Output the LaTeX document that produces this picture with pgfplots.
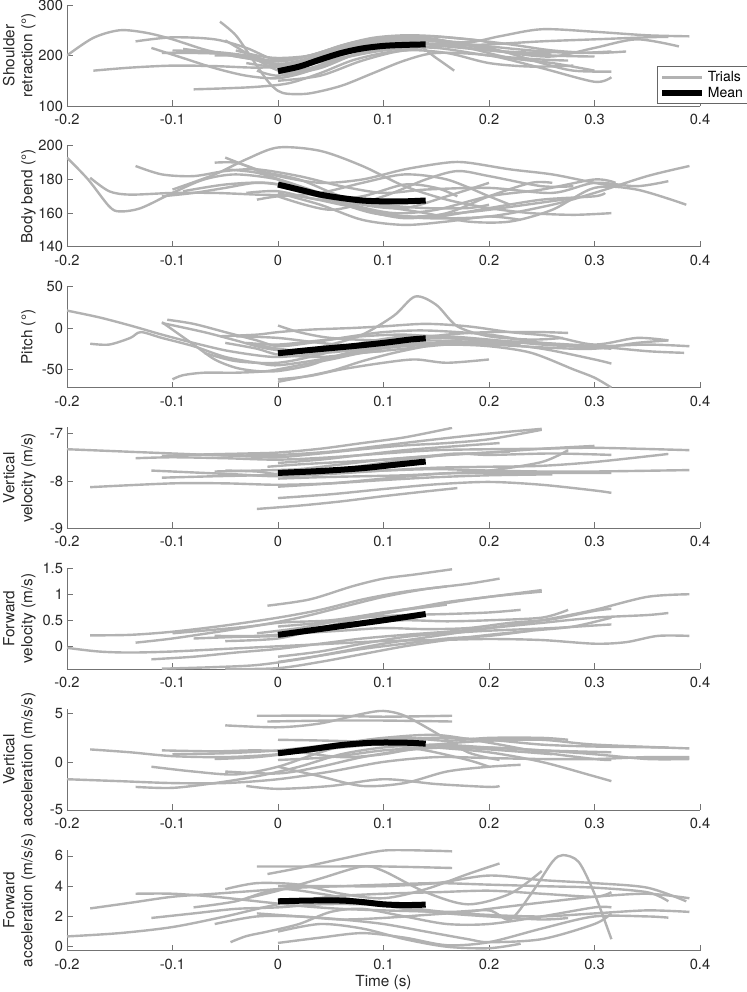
\documentclass[border=0pt]{standalone}
\usepackage{pgfplots}
\pgfplotsset{compat=1.18}
\usepackage{fontspec}
\setmainfont{TeX Gyre Heros}
\definecolor{tgray}{rgb}{0.7,0.7,0.7}
\pgfplotsset{
  panel/.style={
    scale only axis, width=474.75pt, height=75.75pt,
    xmin=-0.2, xmax=0.4,
    axis lines*=left, tick align=inside, major tick length=4.5pt,
    xtick={-0.2,-0.1,0,0.1,0.2,0.3,0.4},
    xticklabels={-0.2,-0.1,0,0.1,0.2,0.3,0.4},
    tick label style={font=\fontsize{11}{13}\selectfont, color=black!85},
    xticklabel style={yshift=-2.5pt},
    yticklabel style={xshift=0.5pt},
    axis line style={black!55, line width=0.5pt},
    every tick/.style={black!55, line width=0.5pt},
    ylabel style={at={(axis description cs:-0.049,0.5)}, anchor=south, align=center, inner sep=0pt,
      font=\fontsize{11.5}{13.5}\selectfont, color=black!85},
    anchor=north west,
  },
  trial/.style={color=tgray, line width=1.8pt, smooth, forget plot, mark=none},
  mean/.style={color=black, line width=4.5pt, smooth, forget plot, mark=none},
}
\begin{document}
\begin{tikzpicture}
\path[use as bounding box] (-50.25pt,-740.25pt) rectangle (509.25pt,3.75pt);
% ---------------- Panel 1 ----------------
\begin{axis}[panel, at={(0pt,0pt)}, ymin=100, ymax=300, ytick={100,200,300}, yticklabels={100,200,300},
  ylabel={Shoulder\\retraction (°)},
  legend style={at={(axis description cs:0.932,0.392)}, anchor=north west, draw=black!60, line width=0.5pt,
    font=\fontsize{10.5}{12}\selectfont, inner sep=1.5pt, row sep=-1.5pt, cells={anchor=west}},
  legend image code/.code={\draw[#1] (0pt,0pt) -- (30pt,0pt);}]
\addlegendimage{color=tgray, line width=1.8pt}
\addlegendimage{black, line width=4.5pt}
\legend{Trials,Mean}
\addplot[trial] coordinates {(-0.2,200)(-0.175,235)(-0.15,250)(-0.125,245)(-0.1,232)(-0.07,212)(-0.04,198)(-0.01,190)(0.02,195)(0.06,215)(0.1,232)(0.14,238)(0.18,232)(0.22,222)(0.26,210)(0.3,205)(0.33,208)};
\addplot[trial] coordinates {(-0.175,170)(-0.14,176)(-0.1,180)(-0.06,179)(-0.02,176)(0.02,180)(0.06,195)(0.1,210)(0.15,218)(0.2,222)(0.25,228)(0.3,232)(0.35,236)(0.37,237)};
\addplot[trial] coordinates {(-0.08,133)(-0.05,135)(-0.02,138)(0.01,145)(0.04,165)(0.07,190)(0.1,205)(0.13,212)};
\addplot[trial] coordinates {(-0.055,267)(-0.04,240)(-0.025,195)(-0.01,150)(0.0,130)(0.01,124)(0.03,125)(0.06,140)(0.09,165)(0.12,190)(0.15,205)(0.2,200)(0.25,175)(0.3,148)(0.316,157)};
\addplot[trial] coordinates {(-0.135,228)(-0.1,236)(-0.06,232)(-0.03,215)(0,190)(0.03,200)(0.07,225)(0.1,235)(0.13,236)(0.17,225)};
\addplot[trial] coordinates {(-0.12,215)(-0.09,195)(-0.06,175)(-0.03,160)(0,155)(0.03,170)(0.06,200)(0.1,222)(0.14,230)(0.18,215)(0.22,195)(0.26,185)(0.3,170)};
\addplot[trial] coordinates {(-0.1,210)(-0.06,207)(-0.03,200)(0,188)(0.03,200)(0.07,225)(0.1,235)(0.14,232)(0.18,226)(0.21,238)(0.25,252)(0.3,247)(0.35,240)(0.39,238)};
\addplot[trial] coordinates {(-0.03,185)(0,178)(0.03,192)(0.06,215)(0.1,232)(0.14,235)(0.18,220)(0.22,205)(0.26,198)(0.3,215)(0.34,232)(0.38,218)};
\addplot[trial] coordinates {(-0.05,230)(-0.03,205)(-0.01,180)(0.01,165)(0.04,175)(0.07,200)(0.1,218)(0.13,222)(0.15,195)(0.167,170)};
\addplot[trial] coordinates {(-0.11,205)(-0.08,205)(-0.05,203)(-0.02,196)(0,183)(0.03,195)(0.06,218)(0.1,230)(0.14,230)(0.2,218)(0.24,210)(0.28,205)(0.316,208)};
\addplot[trial] coordinates {(-0.02,170)(0,160)(0.03,172)(0.07,200)(0.1,215)(0.15,215)(0.2,200)(0.25,192)(0.275,190)};
\addplot[trial] coordinates {(-0.06,200)(-0.03,198)(0,180)(0.03,190)(0.07,215)(0.1,225)(0.15,223)(0.2,210)(0.25,205)(0.26,207)};
\addplot[trial] coordinates {(0,165)(0.03,175)(0.06,195)(0.1,213)(0.14,222)(0.18,222)(0.21,210)(0.25,185)(0.28,170)(0.316,168)};
\addplot[trial] coordinates {(-0.09,213)(-0.06,205)(-0.03,195)(0,182)(0.03,190)(0.06,210)(0.09,225)(0.12,228)(0.15,220)(0.2,210)(0.26,200)(0.3,198)};
\addplot[trial] coordinates {(0,150)(0.04,160)(0.08,190)(0.12,210)(0.16,205)(0.2,185)(0.24,178)(0.28,180)};
\addplot[trial] coordinates {(-0.04,210)(-0.02,200)(0,195)(0.03,200)(0.06,220)(0.09,235)(0.12,240)(0.15,238)(0.19,230)(0.2,225)};
\addplot[mean] coordinates {(0,169)(0.02,178)(0.04,192)(0.06,205)(0.08,214)(0.1,219)(0.12,221)(0.14,222)};
\end{axis}
% ---------------- Panel 2 ----------------
\begin{axis}[panel, at={(0pt,-105.6pt)}, ymin=140, ymax=200, ytick={140,160,180,200}, yticklabels={140,160,180,200},
  ylabel={Body bend (°)}]
\addplot[trial] coordinates {(-0.2,193)(-0.18,180)(-0.16,164)(-0.15,161)(-0.13,163)(-0.1,172)(-0.07,180)(-0.04,183)(0,180)(0.04,172)(0.08,165)(0.12,163)(0.16,170)(0.2,178)};
\addplot[trial] coordinates {(-0.178,181)(-0.16,173)(-0.14,171)(-0.1,172)(-0.06,172)(-0.02,171)(0.02,170)(0.06,165)(0.1,160)(0.14,157)(0.2,158)(0.26,165)(0.3,172)(0.35,182)(0.39,188)};
\addplot[trial] coordinates {(-0.135,188)(-0.11,183)(-0.08,182)(-0.05,185)(-0.02,186)(0.02,182)(0.06,176)(0.1,172)(0.14,174)(0.2,175)(0.26,172)(0.3,178)(0.34,176)(0.37,179)};
\addplot[trial] coordinates {(-0.1,174)(-0.06,183)(-0.03,192)(0,199)(0.04,197)(0.08,188)(0.12,176)(0.16,168)(0.2,163)(0.24,160)(0.28,159)(0.316,160)};
\addplot[trial] coordinates {(-0.11,170)(-0.08,172)(-0.05,175)(-0.02,178)(0.01,176)(0.05,170)(0.1,164)(0.14,160)(0.18,155)(0.22,155)(0.26,162)(0.3,175)(0.34,174)(0.387,165)};
\addplot[trial] coordinates {(-0.06,190)(-0.04,190)(-0.02,186)(0,182)(0.04,178)(0.08,180)(0.12,186)(0.16,190)(0.18,190)(0.22,186)(0.26,183)(0.3,178)(0.32,176)};
\addplot[trial] coordinates {(-0.05,193)(-0.03,188)(0,180)(0.04,170)(0.08,162)(0.12,157)(0.16,160)(0.2,170)(0.24,178)(0.26,178)};
\addplot[trial] coordinates {(-0.02,168)(0,170)(0.04,172)(0.08,178)(0.12,183)(0.16,180)(0.2,170)(0.22,165)};
\addplot[trial] coordinates {(0,172)(0.04,165)(0.08,156)(0.12,153)(0.16,155)(0.2,158)(0.23,156)};
\addplot[trial] coordinates {(-0.09,173)(-0.05,177)(-0.01,178)(0.03,173)(0.07,165)(0.11,160)(0.15,162)(0.2,170)(0.25,174)(0.3,180)(0.32,178)};
\addplot[trial] coordinates {(-0.05,186)(-0.02,184)(0.01,178)(0.05,168)(0.09,160)(0.13,158)(0.17,160)(0.2,162)(0.27,168)(0.275,168)};
\addplot[trial] coordinates {(0,170)(0.05,162)(0.1,170)(0.14,180)(0.17,185)(0.2,182)(0.25,176)(0.28,176)};
\addplot[trial] coordinates {(-0.03,172)(0,173)(0.04,168)(0.08,170)(0.12,177)(0.15,175)(0.17,170)};
\addplot[trial] coordinates {(-0.02,185)(0.02,180)(0.06,170)(0.1,165)(0.14,163)(0.18,163)(0.2,165)};
\addplot[trial] coordinates {(0.0,176)(0.05,168)(0.1,159)(0.15,158)(0.2,163)(0.25,168)(0.3,170)(0.31,172)};
\addplot[mean] coordinates {(0,177)(0.02,174)(0.04,171)(0.06,169)(0.08,167.5)(0.1,167)(0.12,167)(0.14,167.5)};
\end{axis}
% ---------------- Panel 3 ----------------
\begin{axis}[panel, at={(0pt,-211.2pt)}, ymin=-72, ymax=50, ytick={-50,0,50}, yticklabels={-50,0,50},
  ylabel={Pitch (°)}]
\addplot[trial] coordinates {(-0.2,21)(-0.17,13)(-0.14,3)(-0.11,-8)(-0.08,-18)(-0.05,-27)(-0.02,-33)(0,-35)(0.03,-32)(0.06,-25)(0.1,-18)(0.14,-15)(0.2,-18)(0.25,-25)(0.3,-38)(0.316,-43)};
\addplot[trial] coordinates {(-0.178,-19)(-0.16,-20)(-0.14,-12)(-0.13,-5)(-0.11,-12)(-0.08,-22)(-0.05,-35)(-0.02,-42)(0,-45)(0.04,-38)(0.08,-28)(0.12,-22)(0.16,-20)(0.2,-22)(0.24,-30)(0.28,-50)(0.3,-60)(0.316,-72)};
\addplot[trial] coordinates {(-0.11,7)(-0.1,-2)(-0.08,-20)(-0.06,-38)(-0.04,-48)(-0.02,-52)(0,-52)(0.03,-45)(0.06,-32)(0.1,-22)(0.14,-18)(0.17,-20)};
\addplot[trial] coordinates {(-0.105,10)(-0.08,5)(-0.05,-5)(-0.02,-15)(0,-22)(0.03,-18)(0.07,-10)(0.1,-5)(0.14,-3)(0.2,-8)(0.25,-18)(0.3,-22)(0.35,-20)(0.39,-22)};
\addplot[trial] coordinates {(-0.1,-62)(-0.09,-57)(-0.07,-54)(-0.04,-54)(-0.01,-52)(0.02,-45)(0.05,-38)(0.08,-30)(0.1,-28)};
\addplot[trial] coordinates {(-0.11,6)(-0.07,-5)(-0.04,-15)(-0.01,-25)(0.02,-28)(0.05,-20)(0.08,-8)(0.11,15)(0.13,38)(0.15,28)(0.17,2)(0.2,-10)(0.24,-14)(0.27,-12)};
\addplot[trial] coordinates {(-0.055,-10)(-0.02,-8)(0,-5)(0.03,-2)(0.07,0)(0.1,2)(0.14,5)(0.18,2)(0.22,-5)(0.26,-10)(0.3,-20)(0.34,-12)(0.37,-15)};
\addplot[trial] coordinates {(-0.02,-20)(0,-25)(0.04,-30)(0.08,-25)(0.12,-15)(0.16,-8)(0.2,-5)(0.25,-5)(0.275,-6)};
\addplot[trial] coordinates {(0,3)(0.02,-5)(0.05,-12)(0.1,-15)(0.15,-12)(0.2,-15)(0.25,-18)(0.3,-22)(0.35,-28)(0.385,-30)};
\addplot[trial] coordinates {(-0.05,-18)(-0.02,-25)(0,-32)(0.04,-35)(0.08,-30)(0.12,-25)(0.16,-20)(0.2,-18)(0.24,-16)};
\addplot[trial] coordinates {(0,-62)(0.03,-58)(0.06,-50)(0.1,-42)(0.13,-38)(0.16,-42)(0.2,-38)};
\addplot[trial] coordinates {(-0.04,-10)(0,-12)(0.04,-18)(0.08,-22)(0.12,-20)(0.16,-18)(0.2,-20)(0.26,-24)(0.3,-25)(0.34,-18)(0.37,-15)};
\addplot[trial] coordinates {(0,-65)(0.02,-60)(0.05,-52)(0.08,-40)(0.11,-30)(0.14,-22)};
\addplot[trial] coordinates {(-0.03,-18)(0,-20)(0.04,-15)(0.08,-10)(0.12,-8)(0.16,-12)(0.2,-16)(0.23,-20)};
\addplot[trial] coordinates {(-0.07,-30)(-0.04,-40)(0,-42)(0.04,-32)(0.08,-18)(0.12,-10)(0.16,-10)(0.2,-14)(0.25,-20)(0.316,-25)};
\addplot[mean] coordinates {(0,-30.5)(0.035,-26)(0.07,-22)(0.1,-18)(0.125,-14)(0.14,-12.5)};
\end{axis}
% ---------------- Panel 4 ----------------
\begin{axis}[panel, at={(0pt,-316.8pt)}, ymin=-9, ymax=-6.87, ytick={-9,-8,-7}, yticklabels={-9,-8,-7},
  ylabel={Vertical\\velocity (m/s)}]
\addplot[trial] coordinates {(-0.2,-7.33)(-0.1,-7.42)(-0.05,-7.46)(0,-7.45)(0.05,-7.38)(0.1,-7.25)(0.15,-7.12)(0.2,-7.0)(0.25,-6.9)};
\addplot[trial] coordinates {(-0.178,-8.13)(-0.1,-8.05)(-0.05,-8.05)(0,-8.08)(0.05,-8.05)(0.1,-7.98)(0.15,-7.92)(0.2,-7.88)(0.26,-7.86)};
\addplot[trial] coordinates {(-0.135,-7.52)(-0.1,-7.5)(-0.05,-7.52)(0,-7.55)(0.05,-7.5)(0.1,-7.42)(0.15,-7.35)(0.2,-7.33)(0.25,-7.32)(0.3,-7.3)(0.39,-7.35)};
\addplot[trial] coordinates {(-0.12,-7.78)(-0.08,-7.82)(-0.04,-7.86)(0,-7.9)(0.05,-7.85)(0.1,-7.78)(0.15,-7.72)(0.2,-7.7)(0.25,-7.68)(0.3,-7.6)(0.37,-7.43)};
\addplot[trial] coordinates {(-0.11,-7.93)(-0.06,-7.9)(-0.02,-7.88)(0.02,-7.85)(0.06,-7.82)(0.1,-7.78)(0.15,-7.75)(0.2,-7.78)(0.25,-7.8)(0.3,-7.8)(0.39,-7.77)};
\addplot[trial] coordinates {(-0.02,-8.59)(0.02,-8.52)(0.06,-8.43)(0.1,-8.32)(0.14,-8.22)(0.17,-8.15)};
\addplot[trial] coordinates {(0,-8.36)(0.05,-8.28)(0.1,-8.17)(0.15,-8.07)(0.2,-8.02)(0.25,-8.08)(0.3,-8.2)(0.316,-8.25)};
\addplot[trial] coordinates {(-0.11,-7.47)(-0.07,-7.44)(-0.03,-7.42)(0,-7.4)(0.04,-7.32)(0.08,-7.2)(0.12,-7.08)(0.165,-6.88)};
\addplot[trial] coordinates {(-0.07,-7.44)(-0.03,-7.48)(0,-7.5)(0.04,-7.42)(0.08,-7.33)(0.12,-7.25)(0.16,-7.2)(0.2,-7.12)(0.25,-6.92)};
\addplot[trial] coordinates {(-0.05,-7.78)(-0.02,-7.8)(0,-7.85)(0.04,-7.8)(0.08,-7.68)(0.12,-7.55)(0.16,-7.45)(0.2,-7.4)(0.25,-7.32)(0.3,-7.26)};
\addplot[trial] coordinates {(-0.01,-7.7)(0.02,-7.65)(0.06,-7.6)(0.1,-7.55)(0.14,-7.48)(0.17,-7.42)(0.2,-7.45)(0.26,-7.42)(0.316,-7.45)};
\addplot[trial] coordinates {(0,-7.95)(0.04,-7.92)(0.08,-7.9)(0.12,-7.88)(0.16,-7.84)(0.2,-7.83)(0.25,-7.83)(0.316,-7.83)};
\addplot[trial] coordinates {(0,-8.12)(0.05,-8.05)(0.1,-7.95)(0.15,-7.85)(0.2,-7.78)(0.25,-7.6)(0.275,-7.35)};
\addplot[trial] coordinates {(-0.06,-7.8)(-0.02,-7.78)(0.02,-7.75)(0.06,-7.65)(0.1,-7.55)(0.14,-7.48)(0.2,-7.4)(0.22,-7.38)};
\addplot[trial] coordinates {(0,-7.62)(0.04,-7.55)(0.08,-7.45)(0.12,-7.35)(0.16,-7.28)(0.21,-7.2)};
\addplot[mean] coordinates {(0,-7.83)(0.04,-7.79)(0.08,-7.73)(0.11,-7.66)(0.14,-7.59)};
\end{axis}
% ---------------- Panel 5 ----------------
\begin{axis}[panel, at={(0pt,-422.4pt)}, ymin=-0.44, ymax=1.5, ytick={0,0.5,1,1.5}, yticklabels={0,0.5,1,1.5},
  ylabel={Forward\\velocity (m/s)}]
\addplot[trial] coordinates {(-0.2,-0.03)(-0.17,-0.1)(-0.14,-0.12)(-0.1,-0.1)(-0.05,-0.05)(0,0)(0.05,0.05)(0.1,0.1)(0.15,0.12)(0.2,0.14)(0.25,0.12)(0.3,0.05)(0.33,0.08)(0.36,0.2)(0.39,0.2)};
\addplot[trial] coordinates {(-0.178,0.21)(-0.14,0.22)(-0.1,0.28)(-0.05,0.4)(0,0.55)(0.04,0.7)(0.08,0.9)(0.12,1.05)(0.16,1.15)};
\addplot[trial] coordinates {(-0.01,0.78)(0.03,0.9)(0.07,1.15)(0.1,1.3)(0.13,1.38)(0.165,1.48)};
\addplot[trial] coordinates {(-0.1,0.25)(-0.06,0.32)(-0.02,0.4)(0.02,0.55)(0.06,0.75)(0.1,0.95)(0.14,1.1)(0.18,1.2)(0.21,1.3)};
\addplot[trial] coordinates {(-0.135,0.07)(-0.1,0.15)(-0.05,0.3)(0,0.45)(0.05,0.5)(0.1,0.65)(0.15,0.8)(0.2,0.95)(0.25,1.05)};
\addplot[trial] coordinates {(-0.12,-0.25)(-0.08,-0.2)(-0.04,-0.12)(0,-0.05)(0.04,0.05)(0.08,0.15)(0.12,0.22)(0.16,0.28)(0.2,0.35)(0.25,0.45)(0.3,0.55)(0.35,0.6)(0.37,0.64)};
\addplot[trial] coordinates {(-0.11,-0.43)(-0.06,-0.4)(-0.02,-0.36)(0.02,-0.25)(0.06,-0.1)(0.1,0.05)(0.15,0.2)(0.2,0.35)(0.25,0.5)(0.3,0.7)(0.35,0.95)(0.39,1.0)};
\addplot[trial] coordinates {(-0.05,-0.44)(0,-0.42)(0.04,-0.3)(0.08,-0.15)(0.12,0.0)(0.16,0.12)(0.2,0.22)(0.24,0.3)(0.28,0.38)(0.316,0.55)};
\addplot[trial] coordinates {(-0.08,0.15)(-0.04,0.18)(0,0.2)(0.04,0.3)(0.08,0.45)(0.12,0.5)(0.16,0.48)(0.2,0.5)(0.25,0.55)(0.275,0.7)};
\addplot[trial] coordinates {(-0.06,0.2)(-0.02,0.2)(0.02,0.25)(0.06,0.3)(0.1,0.35)(0.14,0.33)(0.18,0.35)(0.22,0.45)(0.26,0.52)(0.3,0.68)(0.316,0.72)};
\addplot[trial] coordinates {(-0.05,0.1)(0,0.15)(0.04,0.35)(0.08,0.55)(0.12,0.7)(0.16,0.85)(0.2,0.95)(0.25,1.08)};
\addplot[trial] coordinates {(0,-0.2)(0.04,-0.1)(0.08,0.05)(0.12,0.18)(0.16,0.25)(0.2,0.3)(0.26,0.35)(0.3,0.4)(0.316,0.42)};
\addplot[trial] coordinates {(-0.02,0.25)(0.02,0.35)(0.06,0.5)(0.1,0.65)(0.14,0.75)(0.16,0.8)};
\addplot[trial] coordinates {(0,0.38)(0.04,0.45)(0.08,0.55)(0.12,0.6)(0.16,0.62)(0.2,0.65)(0.23,0.7)};
\addplot[trial] coordinates {(0.0,-0.3)(0.04,-0.18)(0.08,-0.05)(0.12,0.05)(0.16,0.15)(0.2,0.2)(0.24,0.3)};
\addplot[mean] coordinates {(0,0.22)(0.05,0.36)(0.1,0.5)(0.14,0.62)};
\end{axis}
% ---------------- Panel 6 ----------------
\begin{axis}[panel, at={(0pt,-528pt)}, ymin=-5, ymax=5.5, ytick={-5,0,5}, yticklabels={-5,0,5},
  ylabel={Vertical\\acceleration (m/s/s)}]
\addplot[trial] coordinates {(-0.2,-1.8)(-0.15,-2)(-0.1,-2.2)(-0.05,-2.2)(0,-1.8)(0.05,-1)(0.1,0)(0.15,0.5)(0.2,0.4)(0.25,0.3)(0.3,0.3)(0.35,0.5)(0.39,0.5)};
\addplot[trial] coordinates {(-0.178,1.3)(-0.14,1.0)(-0.1,0.6)(-0.05,0.5)(0,0.8)(0.05,1.5)(0.1,2.2)(0.15,2.5)(0.2,2.3)(0.25,1.8)(0.3,1.6)(0.37,1.5)};
\addplot[trial] coordinates {(-0.135,-2.6)(-0.1,-2.7)(-0.06,-2.2)(-0.02,-1.5)(0.02,-0.5)(0.06,0.8)(0.1,1.5)(0.15,1.8)(0.2,1.5)(0.25,1.2)(0.316,1.0)};
\addplot[trial] coordinates {(-0.02,4.8)(0.05,4.8)(0.1,4.7)(0.165,4.8)};
\addplot[trial] coordinates {(-0.01,4.2)(0.05,4.3)(0.1,4.3)(0.165,4.2)};
\addplot[trial] coordinates {(-0.05,3.8)(0,3.6)(0.04,4)(0.08,5)(0.1,5.3)(0.12,4.8)(0.15,3)(0.18,1)(0.21,0.2)};
\addplot[trial] coordinates {(-0.11,1.2)(-0.06,1.1)(-0.02,1.2)(0.02,1.0)(0.06,0.5)(0.1,0.8)(0.15,1.8)(0.2,2.2)(0.25,2.3)(0.3,1.8)(0.39,1.4)};
\addplot[trial] coordinates {(-0.12,-0.5)(-0.08,-1)(-0.04,-1.3)(0,-0.5)(0.04,1)(0.08,2.2)(0.12,2.5)(0.16,2.2)(0.2,2.5)(0.25,2.5)(0.275,2.3)};
\addplot[trial] coordinates {(-0.06,0.3)(-0.02,0.5)(0.02,1.0)(0.06,1.5)(0.1,1.8)(0.14,1.2)(0.18,0.2)(0.2,-0.5)};
\addplot[trial] coordinates {(0,-0.5)(0.04,-1.5)(0.08,-2.5)(0.12,-2.2)(0.16,-1)(0.2,-0.5)(0.23,-0.3)};
\addplot[trial] coordinates {(-0.1,0.8)(-0.05,0.9)(0,1.2)(0.05,1.8)(0.1,2.5)(0.15,2.8)(0.2,2.0)(0.25,1.0)(0.3,0.3)(0.316,0.2)};
\addplot[trial] coordinates {(-0.05,-1.0)(0,-1.2)(0.04,-0.5)(0.08,0.5)(0.12,1.2)(0.16,1.5)(0.2,1.3)(0.26,0.8)};
\addplot[trial] coordinates {(0,2.3)(0.05,2.2)(0.1,2.0)(0.15,1.5)(0.2,1.0)(0.25,0)(0.3,-1.5)(0.316,-2)};
\addplot[trial] coordinates {(-0.03,-2.5)(0,-2.8)(0.05,-2.5)(0.1,-1.8)(0.15,-2.3)(0.2,-2.6)(0.21,-2.5)};
\addplot[trial] coordinates {(0.0,0.2)(0.05,0.5)(0.1,1.2)(0.15,1.5)(0.2,1.5)(0.25,1.2)(0.3,0.8)(0.35,0.3)(0.39,0.3)};
\addplot[mean] coordinates {(0,0.9)(0.03,1.3)(0.06,1.75)(0.09,2.0)(0.12,2.0)(0.14,1.9)};
\end{axis}
% ---------------- Panel 7 ----------------
\begin{axis}[panel, at={(0pt,-633.6pt)}, ymin=-0.27, ymax=6.4, ytick={0,2,4,6}, yticklabels={0,2,4,6},
  ylabel={Forward\\acceleration (m/s/s)},
  xlabel={Time (s)}, xlabel style={at={(axis description cs:0.5,0)}, anchor=center, yshift=-24pt,
    font=\fontsize{11.5}{14}\selectfont, color=black!85}]
\addplot[trial] coordinates {(-0.2,0.68)(-0.15,0.9)(-0.1,1.3)(-0.05,2.0)(0,2.8)(0.05,3.3)(0.1,3.5)(0.15,3.6)(0.2,3.7)(0.25,3.5)(0.3,3.3)(0.316,3.6)};
\addplot[trial] coordinates {(-0.178,2.53)(-0.14,2.9)(-0.1,3.3)(-0.06,3.5)(-0.02,3.7)(0.02,3.9)(0.06,4.0)(0.1,4.1)(0.15,4.2)(0.2,4.1)(0.25,4.0)(0.3,3.9)(0.35,3.6)(0.37,3.0)};
\addplot[trial] coordinates {(-0.135,3.5)(-0.1,3.5)(-0.06,3.3)(-0.02,3.0)(0.02,2.7)(0.06,2.5)(0.1,2.4)(0.15,2.3)(0.2,2.1)(0.25,2.0)(0.3,2.2)(0.35,2.4)(0.39,2.3)};
\addplot[trial] coordinates {(-0.12,1.9)(-0.08,2.2)(-0.04,2.5)(0,2.6)(0.04,2.8)(0.08,2.8)(0.12,2.6)(0.16,2.3)(0.2,2.4)(0.22,1.8)(0.24,3.5)(0.26,5.6)(0.27,6.05)(0.285,5.6)(0.3,3.5)(0.316,0.5)};
\addplot[trial] coordinates {(-0.045,0.3)(-0.03,0.7)(-0.01,1.0)(0.02,1.5)(0.05,2.3)(0.08,2.5)(0.12,2.0)(0.16,1.5)(0.2,1.5)(0.25,2.0)(0.3,2.6)(0.316,2.6)};
\addplot[trial] coordinates {(0,0.25)(0.04,0.6)(0.08,0.9)(0.12,0.6)(0.16,0.1)(0.2,0.3)(0.25,1.2)(0.3,2.0)(0.35,2.0)(0.37,1.92)};
\addplot[trial] coordinates {(-0.02,5.3)(0.05,5.3)(0.1,5.3)(0.165,5.2)};
\addplot[trial] coordinates {(-0.01,4.8)(0.02,5.2)(0.06,5.8)(0.1,6.35)(0.14,6.35)(0.165,6.3)};
\addplot[trial] coordinates {(-0.05,3.8)(-0.02,4.2)(0.02,4.1)(0.06,3.5)(0.1,3.2)(0.14,3.8)(0.18,4.8)(0.21,5.5)};
\addplot[trial] coordinates {(-0.03,3.2)(0,3.7)(0.04,4.5)(0.08,5.3)(0.1,5.0)(0.14,3.6)(0.18,2.8)(0.22,3.5)(0.25,5.0)};
\addplot[trial] coordinates {(-0.06,1.5)(-0.02,2.0)(0.02,2.0)(0.06,1.8)(0.1,1.5)(0.14,1.0)(0.18,0.5)(0.2,0.3)(0.25,0.5)(0.3,1.5)(0.316,2.2)};
\addplot[trial] coordinates {(-0.08,2.6)(-0.04,3.0)(0,3.8)(0.04,3.5)(0.08,3.0)(0.12,2.5)(0.16,2.2)(0.2,2.0)(0.25,1.8)(0.275,1.9)};
\addplot[trial] coordinates {(0,1.0)(0.04,1.5)(0.08,1.2)(0.12,0.5)(0.16,0)(0.2,-0.1)(0.23,0.2)};
\addplot[trial] coordinates {(-0.02,2.2)(0.02,2.0)(0.06,1.8)(0.1,1.9)(0.14,2.1)(0.18,2.3)(0.2,2.5)(0.26,3.0)(0.3,3.3)(0.35,3.5)(0.39,3.2)};
\addplot[trial] coordinates {(0,4.0)(0.05,4.0)(0.1,4.0)(0.15,4.2)(0.2,4.7)(0.25,4.4)(0.3,4.2)(0.35,3.9)(0.387,3.0)};
\addplot[mean] coordinates {(0,3.0)(0.03,3.05)(0.06,3.05)(0.08,2.95)(0.1,2.8)(0.12,2.75)(0.14,2.78)};
\end{axis}
\end{tikzpicture}
\end{document}
